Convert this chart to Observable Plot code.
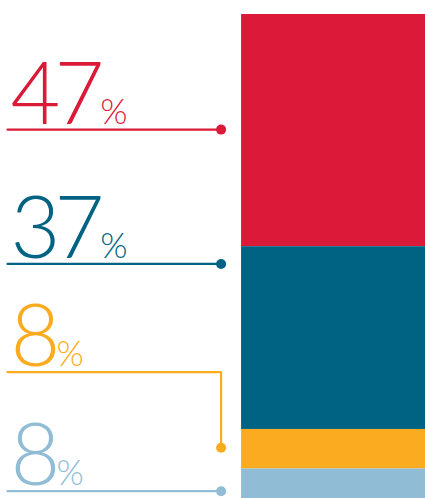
<!DOCTYPE html>
<html><head><meta charset="utf-8">
<script src="https://cdn.jsdelivr.net/npm/d3@7"></script>
<script src="https://cdn.jsdelivr.net/npm/@observablehq/plot@0.6"></script>
<style>
html,body{margin:0;padding:0;background:#fff;}
svg{display:block;}
</style></head><body><div id="chart"></div>
<script>
// ---- data ----
const categories = ["Segment 1", "Segment 2", "Segment 3", "Segment 4"];
const shares = [47, 37, 8, 8];
const valueLabels = ["47", "37", "8", "8"];
const colors = ["#DA1A38", "#006383", "#FBAB20", "#90BDD5"];

// ---- callout anchors (in share units along the bar) ----
const calloutMarker = [23.3, 50.5, 87.7, 96.5];
const calloutLeader = [23.3, 50.5, 72.4, 96.5];

const ends = d3.cumsum(shares);
const rows = categories.map((c, i) => ({
  key: c, value: shares[i], y1: ends[i] - shares[i], y2: ends[i],
  label: valueLabels[i], marker: calloutMarker[i], leader: calloutLeader[i]
}));

// horizontal layout units (0..100 across the page)
const BAR_X1 = 56, BAR_X2 = 100, LEAD_X1 = 0, LEAD_X2 = 51.1;

const path = rows.flatMap(r => [
  {key: r.key, x: LEAD_X1, y: r.leader},
  {key: r.key, x: LEAD_X2, y: r.leader},
  {key: r.key, x: LEAD_X2, y: r.marker}
]);

const chart = Plot.plot({
  width: 425, height: 498, margin: 0,
  x: {domain: [0, 100], range: [7, 425], axis: null},
  y: {domain: [0, 100], range: [14, 508], axis: null},
  color: {domain: categories, range: colors},
  style: {fontFamily: "Lato", background: "#fff"},
  marks: [
    Plot.rect(rows, {x1: BAR_X1, x2: BAR_X2, y1: "y1", y2: "y2", fill: "key"}),
    Plot.line(path, {x: "x", y: "y", z: "key", stroke: "key", strokeWidth: 2.2, curve: "linear"}),
    Plot.dot(rows, {x: LEAD_X2, y: "marker", r: 5, fill: "key"}),
    Plot.text(rows, {x: LEAD_X1, y: "leader", text: "label", fill: "key",
      textAnchor: "start", lineAnchor: "bottom", fontSize: 86, fontWeight: 300, dx: 3, dy: -6})
  ]
});

d3.select(chart).selectAll('g[font-size="86"] text').each(function() {
  const t = d3.select(this);
  const label = t.text();
  t.text(null);
  t.append("tspan").attr("letter-spacing", -6).text(label);
  t.append("tspan").attr("font-size", 35).attr("dx", 2).text("%");
});

document.getElementById("chart").appendChild(chart);
</script></body></html>
